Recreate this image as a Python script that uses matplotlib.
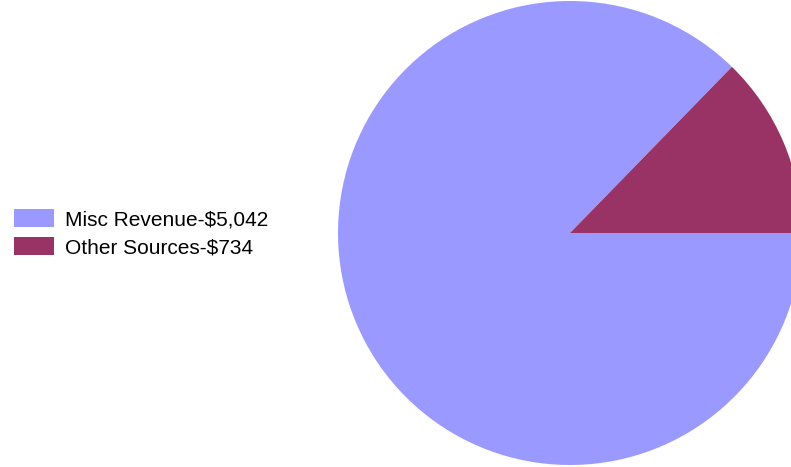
import matplotlib
matplotlib.use('Agg')
import matplotlib.pyplot as plt
import matplotlib.patches as mpatches

plt.rcParams['font.family'] = ['Liberation Sans', 'DejaVu Sans']

# data
labels = ['Misc Revenue', 'Other Sources']
values = [5042, 734]
colors = ['#9999FF', '#993366']

W, H = 791, 467
fig = plt.figure(figsize=(W / 100, H / 100), dpi=100)
ax = fig.add_axes([0, 0, 1, 1])

ax.pie(values, colors=colors, startangle=0, counterclock=False,
       center=(570, 234), radius=232,
       wedgeprops=dict(linewidth=0, edgecolor='none'))
ax.set_xlim(0, W)
ax.set_ylim(0, H)
ax.set_aspect('equal')
ax.axis('off')

handles = [mpatches.Patch(facecolor=c, edgecolor='none',
                          label=f'{l}-${v:,}')
           for l, v, c in zip(labels, values, colors)]
fig.legend(handles=handles, loc='upper left',
           bbox_to_anchor=(14 / W, 1 - 209 / H),
           frameon=False, fontsize=15, borderpad=0, borderaxespad=0,
           handlelength=1.92, handleheight=0.95, handletextpad=0.53,
           labelspacing=0.38)

fig.savefig('out.png', dpi=100)
